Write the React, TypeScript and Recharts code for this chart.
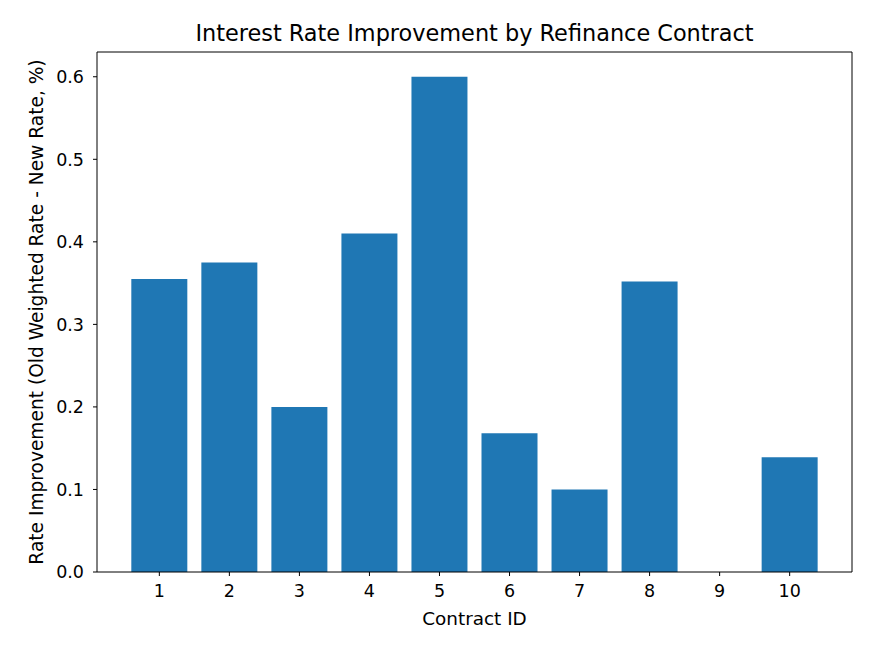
import { Bar, BarChart, Label, ReferenceLine, XAxis, YAxis } from 'recharts';

const contractIds = [1, 2, 3, 4, 5, 6, 7, 8, 9, 10];
const rateImprovement = [0.355, 0.375, 0.2, 0.41, 0.6, 0.168, 0.1, 0.352, 0, 0.139];
const yTicks = [0, 0.1, 0.2, 0.3, 0.4, 0.5, 0.6];
const xDomain: [number, number] = [0.11, 10.89];
const yDomain: [number, number] = [0, 0.63];

const data = contractIds.map((id, i) => ({ id, value: rateImprovement[i] }));

const font = 'DejaVu Sans, sans-serif';
const tickFont = 17.5;
const labelFont = 18.4;

const YLabel = (props: any) => {
  const { viewBox } = props;
  const cx = viewBox.x - 1;
  const cy = viewBox.y + viewBox.height / 2;
  return (
    <text
      x={cx}
      y={cy}
      transform={`rotate(-90, ${cx}, ${cy})`}
      textAnchor="middle"
      dominantBaseline="central"
      fontSize={18.6}
      fontFamily={font}
      fill="#000"
    >
      Rate Improvement (Old Weighted Rate - New Rate, %)
    </text>
  );
};

export default function App() {
  return (
    <div style={{ position: 'absolute', left: 0, top: 0, width: 891, height: 668, background: '#fff' }}>
      <div
        style={{
          position: 'absolute',
          left: 97,
          width: 755,
          top: 20,
          textAlign: 'center',
          fontFamily: font,
          fontSize: 22.4,
          color: '#000',
          whiteSpace: 'nowrap',
        }}
      >
        Interest Rate Improvement by Refinance Contract
      </div>
      <BarChart
        width={891}
        height={668}
        data={data}
        margin={{ top: 52, right: 39, left: 37, bottom: 66 }}
      >
        <XAxis
          dataKey="id"
          type="number"
          domain={xDomain}
          ticks={contractIds}
          allowDataOverflow
          height={30}
          tickSize={4}
          tickMargin={9}
          stroke="#000"
          tick={{ fill: '#000', fontSize: tickFont, fontFamily: font }}
        >
          <Label
            value="Contract ID"
            position="bottom"
            offset={10}
            style={{ fill: '#000', fontSize: labelFont, fontFamily: font }}
          />
        </XAxis>
        <YAxis
          type="number"
          domain={yDomain}
          ticks={yTicks}
          allowDataOverflow
          width={60}
          tickSize={4}
          tickMargin={9}
          stroke="#000"
          tickFormatter={(v: number) => v.toFixed(1)}
          tick={{ fill: '#000', fontSize: tickFont, fontFamily: font }}
        >
          <Label content={<YLabel />} />
        </YAxis>
        <ReferenceLine y={yDomain[1]} stroke="#000" ifOverflow="visible" />
        <ReferenceLine x={xDomain[1]} stroke="#000" ifOverflow="visible" />
        <Bar dataKey="value" fill="#1f77b4" barSize={56} isAnimationActive={false} />
      </BarChart>
    </div>
  );
}
